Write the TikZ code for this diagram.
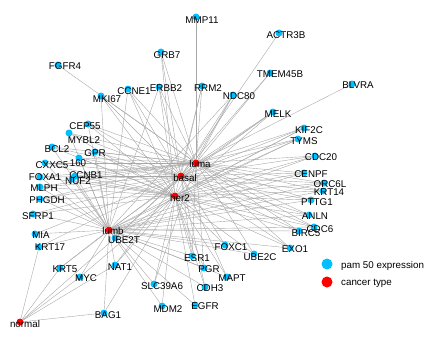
\documentclass[tikz,border=0pt]{standalone}
\usepackage{fontspec}
\setmainfont{Liberation Sans}
\usetikzlibrary{backgrounds}
\definecolor{cpam}{HTML}{00BFFF}
\definecolor{ccancer}{HTML}{FF0000}
\definecolor{cedge}{HTML}{A8A8A8}
\tikzset{
  every picture/.style={font=\fontsize{9.8}{11}\selectfont},
  gene/.style={circle, fill=cpam, inner sep=0pt, minimum size=7pt},
  ctype/.style={circle, fill=ccancer, inner sep=0pt, minimum size=7pt},
  link/.style={draw=cedge, line width=0.4pt},
  tag/.style={anchor=base, yshift=-3.5pt, inner sep=0pt},
}
\begin{document}
\begin{tikzpicture}[x=1pt, y=-1pt,
  keydot/.style={circle, fill=#1, inner sep=0pt, minimum size=11pt},
  keytext/.style={anchor=base west, yshift=-3.5pt, inner sep=0pt}]
  \useasboundingbox (0,0) rectangle (440,340);
  % cancer types
  \foreach \id/\x/\y/\lx/\ly in {luma/196/163/200/164, basal/181/176/185/178, her2/175/196/180/198,
      lumb/109/230/113/231, normal/20/322/25/324}
    \node[ctype] (\id) at (\x,\y) {};
  % pam 50 genes
  \foreach \id/\x/\y in {MMP11/196/17, GRB7/161/52, FGFR4/58/65, MKI67/101/96, CCNE1/128/89,
      ERBB2/159/87, RRM2/202/86, ACTR3B/279/33, TMEM45B/270/73, BLVRA/352/84, NDC80/233/95,
      MELK/273/112, KIF2C/304/128, TYMS/298/139, CDC20/315/156, CEP55/88/124, MYBL2/69/133,
      BCL2/52/147, GPR/95/152, G160/79/158, CXXC5/45/163, FOXA1/40/177, CCNB1/75/176,
      NUF2/72/179, MLPH/40/187, PHGDH/40/199, SFRP1/33/214, UBE2T/115/238, MIA/35/234,
      KRT17/39/247, KRT5/60/268, MYC/80/277, NAT1/115/265, SLC39A6/154/284, MDM2/162/306,
      EGFR/195/305, BAG1/104/313, ESR1/192/256, PGR/204/268, CDH3/205/287, CENPF/304/173,
      ORC6L/324/183, KRT14/323/191, PTTG1/311/200, ANLN/309/215, CDC6/314/227, BIRC5/299/231,
      EXO1/290/248, FOXC1/225/245, UBE2C/254/254, MAPT/227/277}
    \node[gene] (\id) at (\x,\y) {};
  % labels
  \foreach \txt/\lx/\ly in {luma/200/164, basal/185/178, her2/180/198, lumb/113/231, normal/25/324,
      MMP11/202/20, GRB7/167/55, FGFR4/65/66, MKI67/107/99, CCNE1/134/91, ERBB2/166/88,
      RRM2/208/88, ACTR3B/286/35, TMEM45B/280/74, BLVRA/358/85, NDC80/239/96, MELK/278/114,
      KIF2C/309/130, TYMS/304/141, CDC20/321/157, CEP55/85/126, MYBL2/84/140, BCL2/57/149,
      GPR/95/153, 160/78/163, CXXC5/52/165, FOXA1/45/177, CCNB1/86/175, NUF2/78/181,
      MLPH/44/188, PHGDH/47/200, SFRP1/38/216, UBE2T/124/240, MIA/41/235, KRT17/50/247,
      KRT5/65/269, MYC/86/278, NAT1/120/267, SLC39A6/162/286, MDM2/168/309, EGFR/205/306,
      BAG1/108/315, ESR1/197/258, PGR/209/269, CDH3/210/288, CENPF/311/174, ORC6L/330/184,
      KRT14/329/192, PTTG1/317/202, ANLN/315/216, CDC6/320/229, BIRC5/306/233, EXO1/295/249,
      FOXC1/231/247, UBE2C/260/257, MAPT/232/278}
    \node[tag] at (\lx,\ly) {\txt};
  % connections
  \begin{scope}[on background layer]
    \foreach \g/\hubs in {MMP11/{luma}, GRB7/{luma,basal,her2}, FGFR4/{luma},
        MKI67/{luma,basal,her2,lumb}, CCNE1/{luma,basal,her2,lumb}, ERBB2/{luma,basal,her2,lumb},
        RRM2/{luma,basal,her2}, ACTR3B/{basal}, TMEM45B/{luma,basal}, BLVRA/{luma},
        NDC80/{luma,basal,her2,lumb}, MELK/{luma,basal,her2,lumb}, KIF2C/{luma,basal,her2,lumb},
        TYMS/{luma,basal,her2,lumb}, CDC20/{luma,basal,her2,lumb}, CENPF/{luma,basal,her2,lumb},
        ORC6L/{luma,basal,her2,lumb}, KRT14/{luma,basal,her2,lumb}, PTTG1/{luma,basal,her2,lumb},
        ANLN/{luma,basal,her2,lumb}, CDC6/{luma,basal,her2,lumb}, BIRC5/{luma,basal,her2,lumb},
        EXO1/{luma,basal,her2,lumb}, FOXC1/{basal,her2,lumb}, UBE2C/{luma,her2,lumb},
        MAPT/{basal,her2,lumb}, CDH3/{basal,her2,lumb}, PGR/{luma,her2,lumb},
        ESR1/{luma,basal,her2,lumb}, EGFR/{her2,lumb}, MDM2/{her2,lumb}, SLC39A6/{luma,her2,lumb},
        BAG1/{her2,lumb,normal}, NAT1/{basal,her2,lumb,normal}, MYC/{her2,lumb,normal},
        KRT5/{basal,lumb,normal}, KRT17/{basal,lumb,normal}, MIA/{basal,lumb},
        SFRP1/{basal,her2,lumb}, PHGDH/{luma,basal,her2,lumb}, MLPH/{luma,basal,her2,lumb},
        FOXA1/{luma,basal,her2,lumb}, CXXC5/{luma,basal,her2,lumb}, NUF2/{luma,basal,her2,lumb},
        CCNB1/{luma,basal,her2,lumb}, G160/{luma,basal,her2,lumb}, GPR/{luma,basal,her2,lumb},
        BCL2/{luma,basal,her2,lumb}, MYBL2/{luma,basal,her2,lumb}, CEP55/{luma,basal,her2,lumb},
        UBE2T/{luma,basal,her2,normal}}
      \foreach \h in \hubs
        \draw[link] (\g) -- (\h);
  \end{scope}
  % legend
  \node[keydot=cpam] (keypam) at (327,264) {};
  \node[keydot=ccancer] (keycancer) at (327,282) {};
  \node[keytext] at (341,265) {pam 50 expression};
  \node[keytext] at (341,282) {cancer type};
\end{tikzpicture}
\end{document}
